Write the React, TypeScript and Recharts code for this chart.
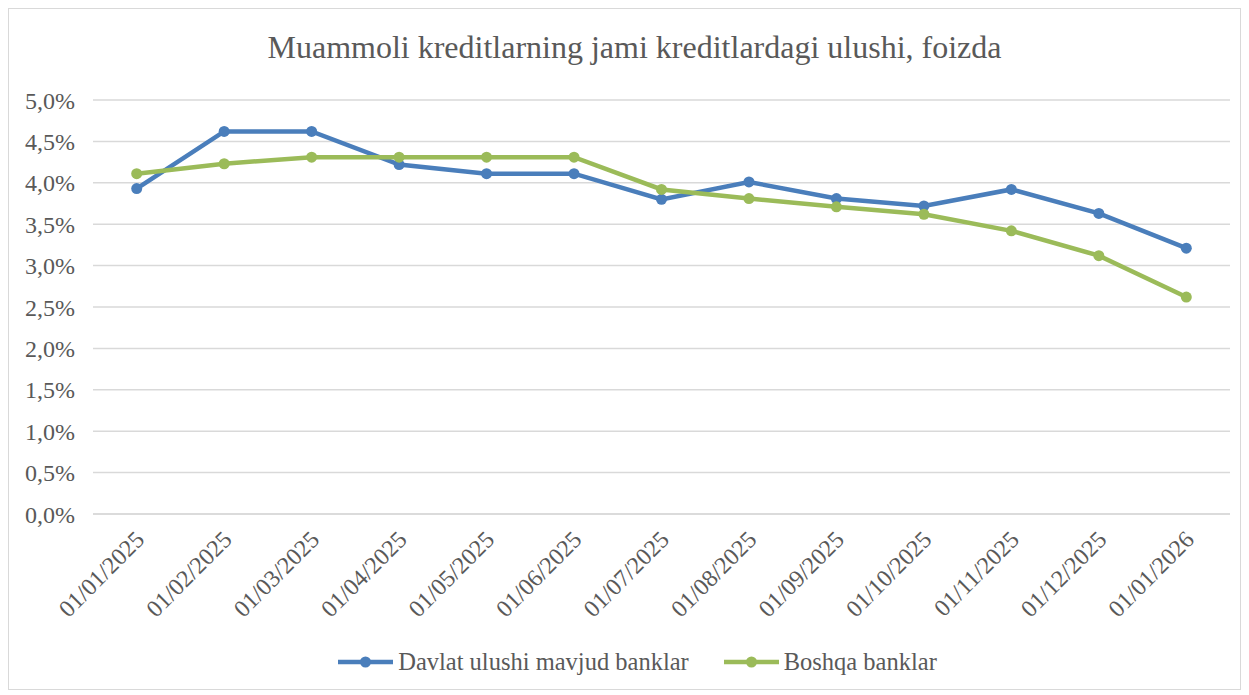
import React from 'react';
import { LineChart, Line, XAxis, YAxis, CartesianGrid, Legend } from 'recharts';

const categories = [
  '01/01/2025', '01/02/2025', '01/03/2025', '01/04/2025', '01/05/2025', '01/06/2025',
  '01/07/2025', '01/08/2025', '01/09/2025', '01/10/2025', '01/11/2025', '01/12/2025', '01/01/2026',
];
const davlat = [3.93, 4.62, 4.62, 4.22, 4.11, 4.11, 3.8, 4.01, 3.81, 3.72, 3.92, 3.63, 3.21];
const boshqa = [4.11, 4.23, 4.31, 4.31, 4.31, 4.31, 3.92, 3.81, 3.71, 3.62, 3.42, 3.12, 2.62];
const yTicks = [0, 0.5, 1, 1.5, 2, 2.5, 3, 3.5, 4, 4.5, 5];
const seriesNames = ['Davlat ulushi mavjud banklar', 'Boshqa banklar'];
const title = 'Muammoli kreditlarning jami kreditlardagi ulushi, foizda';

const BLUE = '#4A7EBB';
const GREEN = '#9BBB59';
const TEXT = '#595959';
const FONT = '"Liberation Serif", "Times New Roman", serif';

const data = categories.map((c, i) => ({ date: c, davlat: davlat[i], boshqa: boshqa[i] }));

const fmt = (v: number) => v.toFixed(1).replace('.', ',') + '%';

const XTick = (props: any) => {
  const { x, y, payload } = props;
  return (
    <g transform={`translate(${x + 2},${y + 12})`}>
      <text x={0} y={0} dy={10} textAnchor="end" transform="rotate(-45)" fill={TEXT} fontSize={24} style={{ fontFamily: FONT }}>
        {payload.value}
      </text>
    </g>
  );
};

const LegendContent = (props: any) => {
  const { payload } = props;
  const items = seriesNames.map((n) => payload.find((p: any) => p.value === n)).filter(Boolean);
  return (
    <div style={{ display: 'flex', justifyContent: 'center', alignItems: 'center', gap: 35, fontFamily: FONT, fontSize: 24.5, color: TEXT, height: 28, paddingLeft: 36 }}>
      {items.map((p: any) => (
        <div key={p.value} style={{ display: 'flex', alignItems: 'center' }}>
          <svg width={55} height={14} style={{ marginRight: 5 }}>
            <line x1={0} y1={7} x2={55} y2={7} stroke={p.color} strokeWidth={4.5} />
            <circle cx={27.5} cy={7} r={5.5} fill={p.color} />
          </svg>
          <span>{p.value}</span>
        </div>
      ))}
    </div>
  );
};

export default function App() {
  return (
    <div style={{ position: 'relative', width: 1231, height: 680, border: '1px solid #d9d9d9', background: '#fff' }}>
      <div style={{ position: 'absolute', left: 20, right: 0, top: 20, textAlign: 'center', fontFamily: FONT, fontSize: 32, color: TEXT, lineHeight: '37px' }}>
        {title}
      </div>
      <LineChart width={1231} height={680} data={data} margin={{ top: 91, right: 10, left: 0, bottom: 13 }}>
        <CartesianGrid vertical={false} stroke="#d9d9d9" strokeWidth={1.5} />
        <XAxis
          dataKey="date"
          axisLine={{ stroke: '#d9d9d9', strokeWidth: 1.5 }}
          tickLine={false}
          tick={<XTick />}
          interval={0}
          height={134}
          padding={{ left: 43.7, right: 43.7 }}
        />
        <YAxis
          domain={[0, 5]}
          ticks={yTicks}
          tickFormatter={fmt}
          axisLine={false}
          tickLine={false}
          width={84}
          tick={{ fill: TEXT, fontSize: 24, dx: -10, style: { fontFamily: FONT } }}
        />
        <Legend verticalAlign="bottom" content={<LegendContent />} />
        <Line
          name={seriesNames[0]}
          dataKey="davlat"
          stroke={BLUE}
          strokeWidth={4.5}
          dot={{ r: 5.5, fill: BLUE, stroke: 'none' }}
          isAnimationActive={false}
        />
        <Line
          name={seriesNames[1]}
          dataKey="boshqa"
          stroke={GREEN}
          strokeWidth={4.5}
          dot={{ r: 5.5, fill: GREEN, stroke: 'none' }}
          isAnimationActive={false}
        />
      </LineChart>
    </div>
  );
}
